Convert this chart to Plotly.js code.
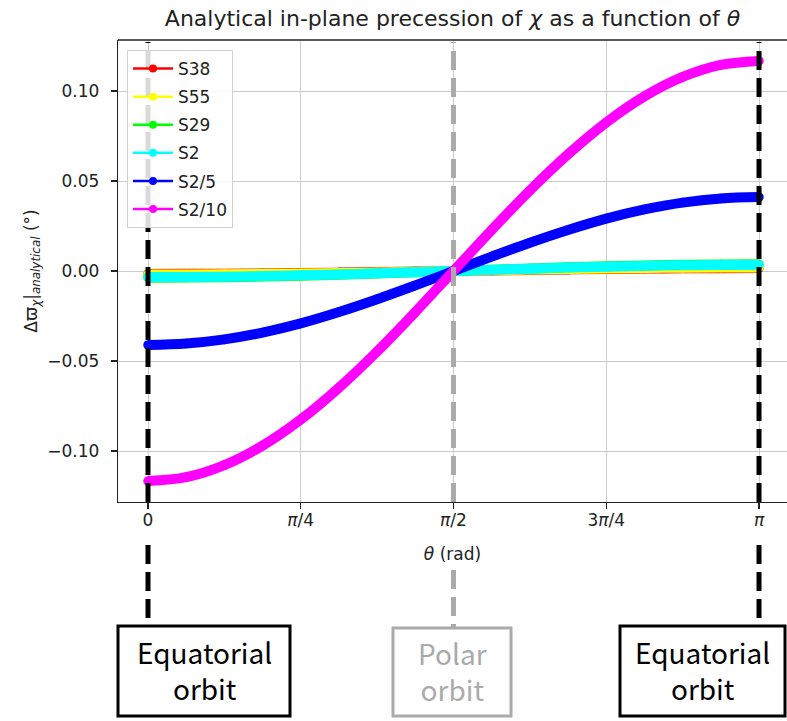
<!DOCTYPE html>
<html>
<head>
<meta charset="utf-8">
<script src="https://cdn.plot.ly/plotly-3.0.1.min.js"></script>
<style>
html, body { margin: 0; padding: 0; background: #ffffff; }
#chart { width: 787px; height: 721px; }
</style>
</head>
<body>
<div id="chart"></div>
<script>
// theta sample positions (rad)
const theta = [0, 0.19635, 0.39270, 0.58905, 0.78540, 0.98175, 1.17810, 1.37445, 1.57080,
               1.76715, 1.96350, 2.15985, 2.35619, 2.55254, 2.74889, 2.94524, 3.14159];

// read-off values (degrees)
const s38 = [-0.0016, -0.00157, -0.00148, -0.00133, -0.00113, -0.00089, -0.00061, -0.00031, 0,
             0.00031, 0.00061, 0.00089, 0.00113, 0.00133, 0.00148, 0.00157, 0.0016];
const s55 = [-0.0020, -0.00196, -0.00185, -0.00166, -0.00141, -0.00111, -0.00077, -0.00039, 0,
             0.00039, 0.00077, 0.00111, 0.00141, 0.00166, 0.00185, 0.00196, 0.0020];
const s29 = [-0.0037, -0.00363, -0.00342, -0.00308, -0.00262, -0.00206, -0.00142, -0.00072, 0,
             0.00072, 0.00142, 0.00206, 0.00262, 0.00308, 0.00342, 0.00363, 0.0037];
const s2 = [-0.0034, -0.00333, -0.00314, -0.00283, -0.00240, -0.00189, -0.00130, -0.00066, 0,
            0.00066, 0.00130, 0.00189, 0.00240, 0.00283, 0.00314, 0.00333, 0.0034];
const s2_5 = [-0.0411, -0.0403, -0.0380, -0.0342, -0.0291, -0.0228, -0.0157, -0.0080, 0,
              0.0080, 0.0157, 0.0228, 0.0291, 0.0342, 0.0380, 0.0403, 0.0411];
const s2_10 = [-0.1167, -0.1145, -0.1078, -0.0970, -0.0825, -0.0648, -0.0447, -0.0228, 0,
               0.0228, 0.0447, 0.0648, 0.0825, 0.0970, 0.1078, 0.1145, 0.1167];

const seriesNames = ['S38', 'S55', 'S29', 'S2', 'S2/5', 'S2/10'];
const seriesValues = [s38, s55, s29, s2, s2_5, s2_10];
const seriesColors = ['#ff0000', '#ffff00', '#00ff00', '#00ffff', '#0000ff', '#ff00ff'];

const xTickVals = [0, 0.785398, 1.570796, 2.356194, 3.141593];
const xTickText = ['0', '<i>π</i>/4', '<i>π</i>/2', '3<i>π</i>/4', '<i>π</i>'];
const yTickVals = [-0.10, -0.05, 0.00, 0.05, 0.10];
const yTickText = ['−0.10', '−0.05', '0.00', '0.05', '0.10'];

// orbit markers (theta positions) and labels
const orbitTheta = [0, 1.570796, 3.141593];
const orbitLabels = ['Equatorial<br>orbit', 'Polar<br>orbit', 'Equatorial<br>orbit'];
const orbitColors = ['#000000', '#aaaaaa', '#000000'];

const traces = [];
seriesNames.forEach((name, i) => {
  traces.push({
    x: theta, y: seriesValues[i], type: 'scatter', mode: 'lines+markers',
    line: { color: seriesColors[i], width: 10, shape: 'spline' },
    marker: { color: seriesColors[i], size: 9.5 },
    showlegend: false, hoverinfo: 'skip'
  });
});
seriesNames.forEach((name, i) => {
  traces.push({
    x: [null], y: [null], type: 'scatter', mode: 'lines+markers', name: name,
    legendgroup: 'g' + i,
    line: { color: seriesColors[i], width: 2.5 },
    marker: { color: seriesColors[i], size: 8 }
  });
});

// layout geometry
const L = 118, T = 40, W = 787, H = 721, B = 502;
const ph = B - T;
const py = v => (B - v) / ph;       // pixel row -> paper y
const px = v => (v - L) / (W - L);  // pixel col -> paper x

const shapes = [];
// top spine
shapes.push({ type: 'line', xref: 'paper', yref: 'paper', x0: 0, x1: 1, y0: 1, y1: 1,
              line: { color: '#222', width: 1.3 }, layer: 'above' });
orbitTheta.forEach((t, i) => {
  const col = orbitColors[i];
  shapes.push({ type: 'line', xref: 'x', yref: 'paper', x0: t, x1: t, y0: 0, y1: py(42),
                line: { color: col, width: 5, dash: '19px,8px' }, layer: 'above' });
  const lowStart = i === 1 ? 570 : 545;
  shapes.push({ type: 'line', xref: 'x', yref: 'paper', x0: t, x1: t, y0: py(lowStart), y1: py(627),
                line: { color: col, width: 5, dash: '19px,8px' }, layer: 'above' });
});
const boxes = [[118, 290, 626, 716], [393, 511, 628, 716], [620, 785, 626, 716]];
const annotations = [];
boxes.forEach((b, i) => {
  shapes.push({ type: 'rect', xref: 'paper', yref: 'paper',
                x0: px(b[0]), x1: px(b[1]), y0: py(b[2]), y1: py(b[3]),
                line: { color: orbitColors[i], width: 3 }, fillcolor: 'rgba(0,0,0,0)', layer: 'above' });
  annotations.push({ xref: 'paper', yref: 'paper', x: px((b[0] + b[1]) / 2), y: py((b[2] + b[3]) / 2 - 1),
                     text: orbitLabels[i], showarrow: false, xanchor: 'center', yanchor: 'middle',
                     font: { family: 'Noto Sans CJK KR, Noto Sans, sans-serif', size: 28, color: orbitColors[i] },
                     align: 'center' });
});

const layout = {
  width: W, height: H,
  margin: { l: L, r: 0, t: T, b: H - B, pad: 0 },
  paper_bgcolor: '#ffffff', plot_bgcolor: '#ffffff',
  font: { family: 'DejaVu Sans', size: 17, color: '#222' },
  title: { text: 'Analytical in-plane precession of <i>χ</i> as a function of <i>θ</i>',
           font: { family: 'DejaVu Sans', size: 22, color: '#222' },
           x: 0.5, xref: 'paper', xanchor: 'center', y: 1 - 18 / H, yref: 'container', yanchor: 'middle' },
  xaxis: {
    range: [-0.15425, 3.2855], autorange: false,
    tickmode: 'array', tickvals: xTickVals, ticktext: xTickText,
    ticks: 'outside', ticklen: 6, tickwidth: 1.2, tickcolor: '#222',
    showline: true, linecolor: '#222', linewidth: 1.3,
    showgrid: true, gridcolor: '#cccccc', gridwidth: 1, zeroline: false,
    tickfont: { size: 17 }, ticklabelstandoff: -4,
    title: { text: '<i>θ</i> (rad)', font: { size: 17 }, standoff: 19 },
    automargin: false
  },
  yaxis: {
    range: [-0.12833, 0.12833], autorange: false,
    tickmode: 'array', tickvals: yTickVals, ticktext: yTickText,
    ticks: 'outside', ticklen: 6, tickwidth: 1.2, tickcolor: '#222',
    showline: true, linecolor: '#222', linewidth: 1.3,
    showgrid: true, gridcolor: '#cccccc', gridwidth: 1, zeroline: false,
    tickfont: { size: 17 }, ticklabelstandoff: 8,
    title: { text: 'Δϖ<sub><i>χ</i></sub>|<sub><i>analytical</i></sub> (°)', font: { size: 17 }, standoff: 5 },
    automargin: false
  },
  legend: {
    x: px(127), y: py(50), xanchor: 'left', yanchor: 'top',
    bgcolor: 'rgba(255,255,255,0.85)', bordercolor: '#d0d0d0', borderwidth: 1,
    font: { family: 'DejaVu Sans', size: 17, color: '#222' },
    tracegroupgap: 3, itemwidth: 40
  },
  shapes: shapes,
  annotations: annotations,
  showlegend: true
};

Plotly.newPlot('chart', traces, layout, { displayModeBar: false, staticPlot: true });
</script>
</body>
</html>
